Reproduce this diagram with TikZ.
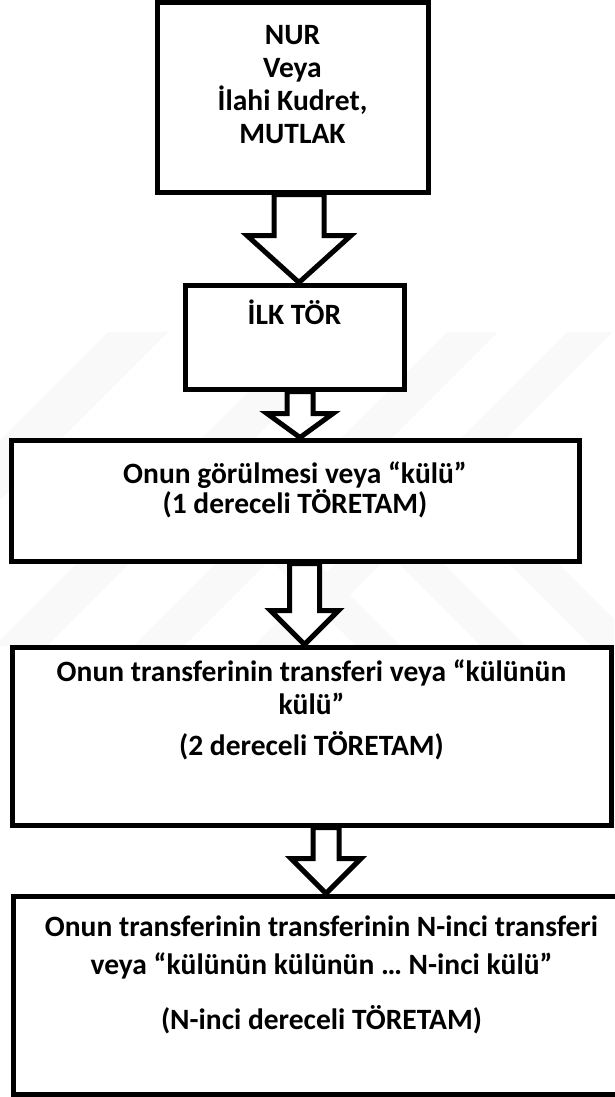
\documentclass[tikz,border=0pt]{standalone}
\usepackage{fontspec}
\setmainfont{Carlito}
\usetikzlibrary{positioning}

\tikzset{
  box/.style={draw, line width=5pt, fill=white, inner sep=0pt},
  txt/.style={font=\bfseries\fontsize{29.5}{33}\selectfont, align=center, inner sep=0pt},
  hollow/.style={draw, line width=5pt, fill=white, line join=miter},
  wmark/.style={fill=gray!5}
}

\begin{document}
\begin{tikzpicture}[x=1pt, y=-1pt]
  \useasboundingbox (0,0) rectangle (614,1097);
  %----- hollow arrow: (from, to, x, half shaft, half head, head length) -----
  \def\hollowarrow#1#2#3#4#5#6{
    \coordinate (hs) at (#3,0 |- #1.south);
    \coordinate (ht) at (#3,0 |- #2.north);
    \draw[hollow] ([xshift=-#4pt]hs) -- ([shift={(-#4,-#6)}]ht) -- ([shift={(-#5,-#6)}]ht)
      -- (ht) -- ([shift={(#5,-#6)}]ht) -- ([shift={(#4,-#6)}]ht) -- ([xshift=#4pt]hs) -- cycle;
  }

  %----- faint watermark stripes -----
  \begin{scope}
    \clip (0,332) rectangle (614,646);
    \foreach \ca/\cb in {440/500, 640/693, 779/830, 899/945}
      \fill[wmark] ({\ca-332},332) -- ({\cb-332},332) -- ({\cb-646},646) -- ({\ca-646},646) -- cycle;
    \foreach \da/\db in {5/55, 120/165, 245/290}
      \fill[wmark] ({520-\db},520) -- ({520-\da},520) -- ({646-\da},646) -- ({646-\db},646) -- cycle;
  \end{scope}

  %----- boxes -----
  \node[box, minimum width=271pt, minimum height=189pt] (b1) at (292.5,97.5) {};
  \node[box, minimum width=219pt, minimum height=104pt] (b2) at (294.5,337) {};
  \node[box, minimum width=568pt, minimum height=121pt] (b3) at (295,500.5) {};
  \node[box, minimum width=599pt, minimum height=178pt] (b4) at (311.5,736) {};
  \node[box, minimum width=617pt, minimum height=198pt] (b5) at (321.5,995) {};

  %----- texts -----
  \node[txt, below=25pt of b1.north] (t1) {NUR\\Veya\\İlahi Kudret,\\MUTLAK};
  \node[txt, below=17pt of b2.north] (t2) {İLK TÖR};
  \node[txt, font=\bfseries\fontsize{29.5}{29}\selectfont, below=24pt of b3.north] (t3)
    {Onun görülmesi veya “külü”\\(1 dereceli TÖRETAM)};
  \node[txt, below=15.5pt of b4.north] (t4)
    {Onun transferinin transferi veya “külünün\\külü”\\[8pt](2 dereceli TÖRETAM)};
  \node[txt, font=\bfseries\fontsize{29.5}{38}\selectfont, below=22.5pt of b5.north] (t5)
    {Onun transferinin transferinin N-inci transferi\\veya “külünün külünün … N-inci külü”\\[17pt](N-inci dereceli TÖRETAM)};

  %----- arrows -----
  \hollowarrow{b1}{b2}{299}{25}{52}{47}
  \hollowarrow{b2}{b3}{300}{13}{33}{24}
  \hollowarrow{b3}{b4}{304.5}{15}{34}{34}
  \hollowarrow{b4}{b5}{326}{13}{35}{35}
\end{tikzpicture}
\end{document}
